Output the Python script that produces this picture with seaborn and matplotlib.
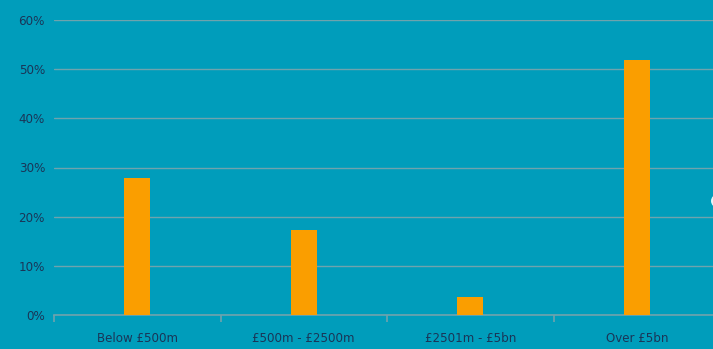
import matplotlib
matplotlib.use("Agg")
import matplotlib.pyplot as plt
import seaborn as sns
import pandas as pd
from matplotlib.ticker import FixedLocator, PercentFormatter
from matplotlib.patches import Circle

categories = ["Below £500m", "£500m - £2500m", "£2501m - £5bn", "Over £5bn"]
values = [27.8, 17.3, 3.6, 51.8]
yticks = [0, 10, 20, 30, 40, 50, 60]

bg = "#009DBB"
bar_color = "#FA9E00"
grid_color = "#6FA3AD"
text_color = "#1A3557"

sns.set_theme(style="white")
plt.rcParams["font.family"] = ["DejaVu Sans"]

df = pd.DataFrame({"cat": categories, "val": values})

fig = plt.figure(figsize=(7.13, 3.49), dpi=100, facecolor=bg)
ax = fig.add_axes([54/713, 1 - 315/349, (720 - 54)/713, (315 - 20)/349])
ax.set_facecolor(bg)

sns.barplot(data=df, x="cat", y="val", color=bar_color, width=0.157,
            saturation=1, linewidth=0, edgecolor="none", ax=ax, zorder=3)

ax.set_ylim(0, 60)
ax.set_xlim(-0.5, 3.5)
ax.yaxis.set_major_locator(FixedLocator(yticks))
ax.yaxis.set_major_formatter(PercentFormatter(decimals=0))
ax.grid(axis="y", color=grid_color, linewidth=1, zorder=0)
ax.set_axisbelow(True)
for s in ["top", "right", "left"]:
    ax.spines[s].set_visible(False)
ax.spines["bottom"].set_color(grid_color)
ax.spines["bottom"].set_linewidth(1.2)

ax.set_xlabel("")
ax.set_ylabel("")
ax.tick_params(axis="y", length=0, pad=6.5, labelsize=8.6, labelcolor=text_color)
ax.tick_params(axis="x", which="major", length=0, pad=12, labelsize=8.6, labelcolor=text_color)
ax.xaxis.set_minor_locator(FixedLocator([-0.5, 0.5, 1.5, 2.5, 3.5]))
ax.tick_params(axis="x", which="minor", bottom=True, length=5, width=1.2,
               color=grid_color, direction="out")

circ = Circle((737/713, 1 - 201/349), 26/713, transform=fig.transFigure,
              facecolor="#E4F5F9", edgecolor="none", clip_on=False)
fig.patches.append(circ)

fig.savefig("out.png", dpi=100, facecolor=bg)
